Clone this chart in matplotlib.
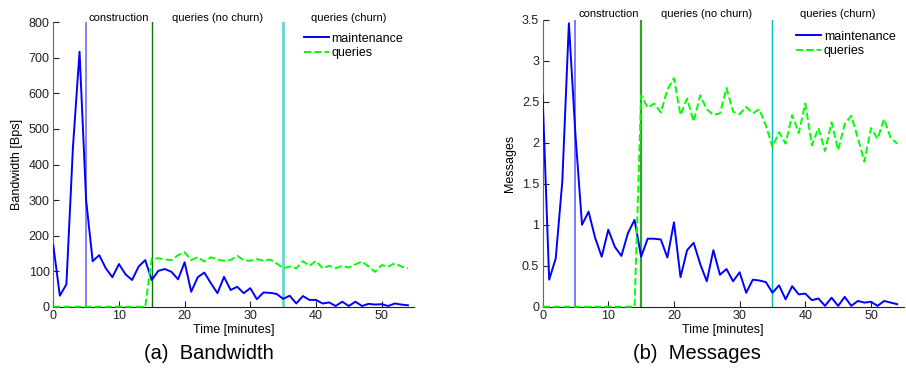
import numpy as np
import matplotlib
matplotlib.use("Agg")
import matplotlib.pyplot as plt
from matplotlib.ticker import FuncFormatter

plt.rcParams['font.family'] = ['Liberation Sans', 'DejaVu Sans']

# time axis in minutes
minutes = list(range(55))

# (a) bandwidth [Bps]
bw_maintenance = [173, 31, 63, 450, 717, 300, 128, 145, 108, 83,
                  120, 91, 75, 113, 131, 75, 101, 106, 98, 77,
                  125, 42, 83, 96, 66, 38, 84, 47, 56, 38,
                  52, 21, 40, 39, 36, 22, 31, 9, 30, 19,
                  19, 9, 12, 2, 14, 2, 14, 2, 8, 6,
                  7, 2, 9, 6, 4]
bw_queries = [0] * 15 + [136, 136, 133, 131, 145, 153, 131, 139, 127, 139,
                         133, 129, 131, 143, 131, 129, 134, 129, 133, 122,
                         108, 113, 108, 128, 115, 129, 108, 115, 108, 115,
                         110, 119, 127, 113, 98, 117, 113, 122, 113, 108]

# (b) messages
msg_maintenance = [2.58, 0.33, 0.59, 1.53, 3.46, 2.10, 1.00, 1.16, 0.84, 0.61,
                   0.94, 0.73, 0.62, 0.90, 1.06, 0.61, 0.83, 0.83, 0.82, 0.60,
                   1.03, 0.36, 0.69, 0.78, 0.52, 0.31, 0.69, 0.39, 0.46, 0.31,
                   0.42, 0.17, 0.33, 0.32, 0.30, 0.17, 0.26, 0.09, 0.25, 0.15,
                   0.16, 0.08, 0.10, 0.01, 0.11, 0.01, 0.12, 0.01, 0.07, 0.05,
                   0.06, 0.01, 0.07, 0.05, 0.03]
msg_queries = [0] * 15 + [2.58, 2.43, 2.48, 2.37, 2.65, 2.79, 2.34, 2.54, 2.26, 2.58,
                          2.41, 2.34, 2.36, 2.67, 2.38, 2.35, 2.44, 2.36, 2.41, 2.21,
                          1.95, 2.13, 1.99, 2.34, 2.12, 2.48, 1.97, 2.18, 1.90, 2.25,
                          1.91, 2.23, 2.33, 2.06, 1.77, 2.18, 2.05, 2.29, 2.06, 1.99]

phases = [(10, "construction"), (25, "queries (no churn)"), (45, "queries (churn)")]

fig = plt.figure(figsize=(9.06, 3.8), dpi=100)
ax1 = fig.add_axes([0.0588, 0.1929, 0.3987, 0.7484])
ax2 = fig.add_axes([0.5989, 0.1929, 0.3987, 0.7545])


def style_axes(ax, ymax, yticks, ylabel, vcolors, vwidths, text_y):
    ax.set_xlim(0, 55)
    ax.set_ylim(0, ymax)
    ax.set_xticks(range(0, 55, 10))
    ax.set_yticks(yticks)
    ax.yaxis.set_major_formatter(FuncFormatter(lambda v, p: "%g" % v))
    ax.tick_params(direction='in', length=4, labelsize=9, pad=2.5, colors='#222222')
    ax.spines['top'].set_visible(False)
    ax.spines['right'].set_visible(False)
    ax.spines['left'].set_color('#666666')
    ax.spines['bottom'].set_color('#222222')
    ax.set_xlabel('Time [minutes]', fontsize=9, labelpad=1)
    ax.set_ylabel(ylabel, fontsize=9, labelpad=4)
    # phase separators
    for x, c, w in zip([5, 15, 35], vcolors, vwidths):
        ax.axvline(x, color=c, linewidth=w, zorder=1)
    for x, label in phases:
        ax.text(x, text_y, label, transform=ax.get_xaxis_transform(),
                ha='center', va='baseline', fontsize=8)


style_axes(ax1, 800, range(0, 801, 100), 'Bandwidth [Bps]',
           ['#7878ff', '#007a00', '#66d6d6'], [1.3, 1.0, 2.0], 1.003)
ax1.plot(minutes, bw_maintenance, color='#0000ff', lw=1.4, label='maintenance', zorder=3)
ax1.plot(minutes, bw_queries, color='#00ff00', lw=1.4, ls='--', label='queries', zorder=4,
         clip_on=False)
ax1.legend(loc='upper left', bbox_to_anchor=(0.677, 0.986), frameon=False, fontsize=9,
           borderpad=0, handlelength=2.0, handletextpad=0.2, labelspacing=0.2)

style_axes(ax2, 3.5, np.arange(0, 3.51, 0.5), 'Messages',
           ['#7070ff', '#33a033', '#00bcbc'], [1.3, 1.6, 1.0], 1.012)
ax2.plot(minutes, msg_maintenance, color='#0000ff', lw=1.4, label='maintenance', zorder=3)
ax2.plot(minutes, msg_queries, color='#00ff00', lw=1.4, ls='--', label='queries', zorder=4,
         clip_on=False)
ax2.legend(loc='upper left', bbox_to_anchor=(0.685, 0.985), frameon=False, fontsize=9,
           borderpad=0, handlelength=2.0, handletextpad=0.2, labelspacing=0.2)

fig.text(0.231, 0.071, '(a)  Bandwidth', ha='center', va='center', fontsize=14.5)
fig.text(0.769, 0.071, '(b)  Messages', ha='center', va='center', fontsize=14.5)

fig.savefig('out.png', dpi=100)
